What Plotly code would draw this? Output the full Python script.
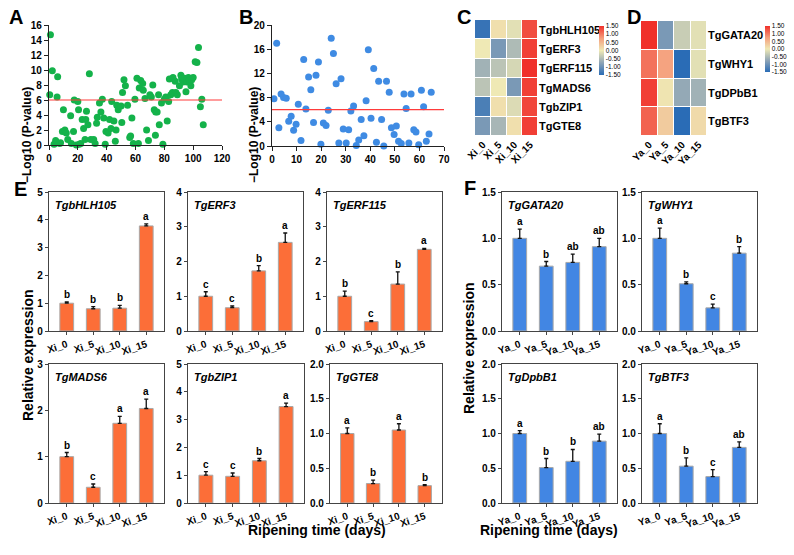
import plotly.graph_objects as go

W, H = 794, 555
MR = 37            # right margin (room for the D colorbar)
PW = W - MR        # plot-area width in px
FONT = "Liberation Sans, Arial, sans-serif"

# ---------------- Panel A / B data ----------------
a_x = [1, 0.5, 2.3, 6, 5.6, 3.5, 4.6, 7.4, 8, 10, 9.3, 11, 12, 13, 15, 15.5, 17, 17.5, 19, 20, 20.5,
       21, 22, 23, 24, 25, 25.5, 26, 27, 28, 29, 31, 32, 33, 33.5, 35, 36, 37, 38, 39, 39.5, 41,
       42, 43, 43.5, 45, 46, 46.5, 47, 48, 50, 50.5, 51, 52, 53, 54.5, 56, 56.6, 57.5, 58.5, 59.6,
       61, 62, 62.6, 63.6, 65, 65.4, 66.6, 67.7, 69, 70, 71, 72, 73, 74, 75, 76, 76.5, 73.8, 78,
       79, 80, 81, 82, 83, 83.5, 84.5, 85.6, 86, 87.5, 88, 89, 90.5, 91.5, 92, 93, 94, 95, 95.6,
       96.7, 97.4, 98.4, 99, 100, 101.4, 102.6, 103.7, 105, 106, 107]
a_y = [14.7, 6.7, 9.9, 9.1, 6.4, 0.1, 0.6, 0.2, 0.3, 4.7, 1.8, 2.0, 1.6, 0.75, 3.9, 0.2, 1.8, 6.0, 0.0, 5.8, 4.7,
       0.1, 0.2, 3.4, 2.2, 0.75, 3.4, 4.5, 2.7, 9.5, 0.75, 0.75, 0.2, 2.9, 3.7, 5.6, 4.4, 6.1, 3.6, 0.1, 1.8, 1.6,
       3.4, 2.2, 5.8, 3.2, 0.5, 2.0, 5.3, 4.7, 5.2, 3.0, 7.0, 8.7, 7.9, 5.3, 1.0, 1.2, 3.6, 0.2, 6.1,
       8.9, 0.2, 7.6, 8.6, 8.2, 7.3, 6.2, 2.0, 0.6, 6.7, 6.4, 8.0, 4.7, 4.4, 4.4, 6.7, 2.7, 1.3, 5.6,
       0.1, 6.1, 6.4, 3.2, 5.8, 8.8, 6.7, 7.0, 9.0, 8.5, 7.0, 6.7, 7.9, 9.3, 8.8, 8.4, 8.9, 7.1, 8.4,
       9.0, 8.7, 7.9, 8.7, 9.0, 11.1, 11.0, 13.0, 5.1, 6.1, 2.7]
b_x = [0.8, 1.9, 2.8, 3.7, 4.7, 5.8, 6.8, 7.8, 8.8, 9.8, 10.7, 11.8, 12.9, 13.8, 14.9, 15.8, 16.9,
       17.9, 18.9, 19.9, 20.9, 22, 22.9, 24.1, 25, 26.1, 27.2, 28.1, 29, 30.2, 31.2, 32.1, 33.2,
       34.3, 35.3, 36.3, 37.4, 38.3, 39.2, 40.3, 41.4, 42.5, 43.4, 44.6, 45.5, 46.6, 47.7, 48.6,
       49.7, 50.6, 51.5, 52.6, 53.7, 54.6, 55.7, 56.6, 57.7, 58.6, 59.7, 60.8, 61.7, 62.8, 63.9, 64.8]
b_y = [7.8, 17.0, 3.0, 8.6, 8.0, 7.9, 4.1, 4.9, 2.6, 3.6, 6.9, 0.9, 14.3, 6.1, 11.4, 9.3, 3.9,
       11.7, 13.9, 0.3, 3.8, 3.4, 5.9, 17.8, 15.3, 10.3, 0.5, 11.1, 2.8, 0.5, 2.7, 5.8, 6.6,
       0.1, 1.0, 4.4, 1.7, 7.5, 15.9, 4.6, 12.8, 0.6, 10.7, 4.4, 0.0, 10.7, 8.9, 3.0,
       1.9, 3.3, 0.8, 0.4, 8.6, 6.2, 0.5, 8.6, 2.7, 2.3, 0.2, 9.2, 6.5, 0.8, 2.0, 8.9]
threshold = 6

# ---------------- Heatmap data ----------------
xi_samples = ["Xi_0", "Xi_5", "Xi_10", "Xi_15"]
ya_samples = ["Ya_0", "Ya_5", "Ya_10", "Ya_15"]
c_genes = ["TgbHLH105", "TgERF3", "TgERF115", "TgMADS6", "TgbZIP1", "TgGTE8"]
c_z = [[-1.4, 0.1, -0.1, 1.3],
       [0.0, -0.9, -0.5, 1.4],
       [-0.6, -0.4, -0.2, 1.5],
       [-0.4, 0.0, -0.9, 1.4],
       [-1.25, 0.1, -0.15, 1.35],
       [-0.9, -0.55, 0.1, 1.4]]
d_genes = ["TgGATA20", "TgWHY1", "TgDPbB1", "TgBTF3"]
d_z = [[1.5, -0.9, -0.3, -0.1],
       [1.05, 0.7, -1.5, -0.1],
       [1.4, 0.05, -0.7, -0.6],
       [1.15, 0.3, -1.5, 0.15]]
cb_ticks = [1.5, 1.0, 0.5, 0.0, -0.5, -1.0, -1.5]
cb_labels = ["1.50", "1.00", "0.50", "0.00", "-0.50", "-1.00", "-1.50"]

# ---------------- Bar data (E: Xi, F: Ya) ----------------
bhlh105_mean = [1.0, 0.8, 0.82, 3.78]; bhlh105_err = [0.05, 0.08, 0.1, 0.07]; bhlh105_sig = ["b", "b", "b", "a"]
erf3_mean = [1.0, 0.67, 1.73, 2.55]; erf3_err = [0.13, 0.05, 0.15, 0.27]; erf3_sig = ["c", "c", "b", "a"]
erf115_mean = [1.0, 0.27, 1.35, 2.35]; erf115_err = [0.15, 0.03, 0.35, 0.03]; erf115_sig = ["b", "c", "b", "a"]
mads6_mean = [1.0, 0.34, 1.72, 2.04]; mads6_err = [0.09, 0.07, 0.15, 0.2]; mads6_sig = ["b", "c", "a", "a"]
bzip1_mean = [1.0, 0.96, 1.52, 3.47]; bzip1_err = [0.13, 0.12, 0.08, 0.12]; bzip1_sig = ["c", "c", "b", "a"]
gte8_mean = [1.0, 0.28, 1.05, 0.25]; gte8_err = [0.08, 0.05, 0.09, 0.015]; gte8_sig = ["a", "b", "a", "b"]
gata20_mean = [1.0, 0.70, 0.74, 0.91]; gata20_err = [0.1, 0.05, 0.09, 0.09]; gata20_sig = ["a", "b", "ab", "ab"]
why1_mean = [1.0, 0.51, 0.25, 0.84]; why1_err = [0.11, 0.02, 0.04, 0.07]; why1_sig = ["a", "b", "c", "b"]
dpbb1_mean = [1.0, 0.51, 0.60, 0.89]; dpbb1_err = [0.04, 0.13, 0.17, 0.1]; dpbb1_sig = ["a", "b", "b", "ab"]
btf3_mean = [1.0, 0.53, 0.38, 0.80]; btf3_err = [0.14, 0.12, 0.1, 0.08]; btf3_sig = ["a", "b", "c", "ab"]


def px(p):
    return p / PW


def dx(p0, p1):
    return [px(p0), px(p1)]


def py(p):
    return 1 - p / H


def dy(top, bottom):
    return [py(bottom), py(top)]


fig = go.Figure()
layout = dict(template="none", width=W, height=H, margin=dict(l=0, r=MR, t=0, b=0, pad=0),
              paper_bgcolor="white", plot_bgcolor="white", showlegend=False,
              font=dict(family=FONT, color="black"))
annotations = []

tickfont_b = dict(family=FONT, size=10, color="black", weight="bold")

# ---------------- Panel A ----------------
fig.add_trace(go.Scatter(x=a_x, y=a_y, mode="markers", xaxis="x", yaxis="y",
                         marker=dict(color="#14b24a", size=7, line=dict(width=0)), cliponaxis=False))
fig.add_trace(go.Scatter(x=[0, 120], y=[threshold, threshold], mode="lines", xaxis="x", yaxis="y",
                         line=dict(color="#ff3b3b", width=1.2)))
scat_ax = dict(showline=True, linecolor="#222", linewidth=1.3, ticks="outside", ticklen=4, tickwidth=1,
               tickcolor="#222", showgrid=False, zeroline=False, tickfont=tickfont_b, automargin=False)
layout["xaxis"] = dict(domain=dx(49, 222), range=[0, 120], dtick=20, anchor="y", **scat_ax)
layout["yaxis"] = dict(domain=dy(25, 145), range=[0, 16], dtick=2, anchor="x", **scat_ax)

# ---------------- Panel B ----------------
fig.add_trace(go.Scatter(x=b_x, y=b_y, mode="markers", xaxis="x2", yaxis="y2",
                         marker=dict(color="#3f8be3", size=7, line=dict(width=0)), cliponaxis=False))
fig.add_trace(go.Scatter(x=[0, 70], y=[threshold, threshold], mode="lines", xaxis="x2", yaxis="y2",
                         line=dict(color="#ff3b3b", width=1.2)))
layout["xaxis2"] = dict(domain=dx(272, 444), range=[0, 70], dtick=10, anchor="y2", **scat_ax)
layout["yaxis2"] = dict(domain=dy(25, 146), range=[0, 20], dtick=4, anchor="x2", **scat_ax)

for xc in [18, 245]:
    annotations.append(dict(x=px(xc), y=py(85), xref="paper", yref="paper", text="<b>−Log10 (P-value)</b>",
                            textangle=-90, showarrow=False, font=dict(family=FONT, size=12)))

# ---------------- Heatmaps ----------------
cscale = [[0.0, "#2a6cb6"], [0.25, "#8ea4b6"], [0.5, "#efe9b5"], [0.75, "#f59e7c"], [1.0, "#f0302a"]]
fig.add_trace(go.Heatmap(z=c_z, x=xi_samples, y=c_genes, coloraxis="coloraxis", xgap=1, ygap=1,
                         xaxis="x3", yaxis="y3"))
fig.add_trace(go.Heatmap(z=d_z, x=ya_samples, y=d_genes, coloraxis="coloraxis2", xgap=1, ygap=1,
                         xaxis="x4", yaxis="y4"))
hm_x = dict(showline=False, showgrid=False, zeroline=False, ticks="", tickangle=-45, automargin=False,
            tickfont=dict(family=FONT, size=10, weight="bold"))
hm_y = dict(showline=False, showgrid=False, zeroline=False, ticks="", side="right", autorange="reversed",
            automargin=False, tickfont=dict(family=FONT, size=11, weight="bold"))
layout["xaxis3"] = dict(domain=dx(475, 538), anchor="y3", **hm_x)
layout["yaxis3"] = dict(domain=dy(20, 136), anchor="x3", **hm_y)
layout["xaxis4"] = dict(domain=dx(641, 707), anchor="y4", **hm_x)
layout["yaxis4"] = dict(domain=dy(21, 136), anchor="x4", **hm_y)


def cbar(xpx, ytop, lenpx):
    return dict(x=px(xpx), xanchor="left", y=py(ytop), yanchor="top", lenmode="pixels", len=lenpx,
                thickness=5, outlinewidth=0, borderwidth=0, xpad=0, ypad=0, tickmode="array",
                tickvals=cb_ticks, ticktext=cb_labels, ticks="", ticklen=0,
                tickfont=dict(family=FONT, size=6.5, color="black"))


layout["coloraxis"] = dict(colorscale=cscale, cmin=-1.5, cmax=1.5, colorbar=cbar(599, 26, 49))
layout["coloraxis2"] = dict(colorscale=cscale, cmin=-1.5, cmax=1.5, colorbar=cbar(765, 26, 46))

# ---------------- Bar panels ----------------
ORANGE = "#fc6e38"
BLUE = "#4286e3"
bar_panels = [
    ("TgbHLH105", xi_samples, bhlh105_mean, bhlh105_err, bhlh105_sig, ORANGE, (49, 164), (192, 331), 5, 1, None),
    ("TgERF3", xi_samples, erf3_mean, erf3_err, erf3_sig, ORANGE, (188, 303), (192, 331), 4, 1, None),
    ("TgERF115", xi_samples, erf115_mean, erf115_err, erf115_sig, ORANGE, (327, 442), (192, 331), 4, 1, None),
    ("TgMADS6", xi_samples, mads6_mean, mads6_err, mads6_sig, ORANGE, (49, 164), (364, 503), 3, 1, None),
    ("TgbZIP1", xi_samples, bzip1_mean, bzip1_err, bzip1_sig, ORANGE, (188, 304), (364, 503), 5, 1, None),
    ("TgGTE8", xi_samples, gte8_mean, gte8_err, gte8_sig, ORANGE, (330, 442), (364, 503), 2, 0.5, ".1f"),
    ("TgGATA20", ya_samples, gata20_mean, gata20_err, gata20_sig, BLUE, (502, 617), (192, 331), 1.5, 0.5, ".1f"),
    ("TgWHY1", ya_samples, why1_mean, why1_err, why1_sig, BLUE, (642, 757), (192, 331), 1.5, 0.5, ".1f"),
    ("TgDpbB1", ya_samples, dpbb1_mean, dpbb1_err, dpbb1_sig, BLUE, (502, 617), (364, 503), 2, 0.5, ".1f"),
    ("TgBTF3", ya_samples, btf3_mean, btf3_err, btf3_sig, BLUE, (642, 757), (364, 503), 2, 0.5, ".1f"),
]

for i, (gene, cats, mean, err, sig, col, (x0, x1), (y0, y1), ymax, dt, fmt) in enumerate(bar_panels):
    n = i + 5
    xa, ya = f"x{n}", f"y{n}"
    fig.add_trace(go.Bar(x=cats, y=mean, xaxis=xa, yaxis=ya, width=0.52,
                         marker=dict(color=col, line=dict(color="#a8a8a8", width=1)),
                         error_y=dict(type="data", array=err, arrayminus=[0] * len(err), symmetric=False,
                                      color="#111", thickness=1.3, width=2)))
    box = dict(showline=True, mirror=True, linecolor="#444", linewidth=1.3, ticks="outside", ticklen=3,
               tickwidth=1, tickcolor="#444", showgrid=False, zeroline=False, tickfont=tickfont_b,
               automargin=False)
    layout[f"xaxis{n}"] = dict(domain=dx(x0, x1), anchor=ya, type="category", range=[-0.67, 3.67],
                               tickangle=-18, **box)
    yax = dict(domain=dy(y0, y1), anchor=xa, range=[0, ymax], dtick=dt, **box)
    if fmt:
        yax["tickformat"] = fmt
    layout[f"yaxis{n}"] = yax
    annotations.append(dict(x=0.035, y=1 - 13 / (y1 - y0), xref=f"{xa} domain", yref=f"{ya} domain",
                            text=f"<b><i>{gene}</i></b>", showarrow=False, xanchor="left", yanchor="middle",
                            font=dict(family=FONT, size=11)))
    for c, m, e, s in zip(cats, mean, err, sig):
        annotations.append(dict(x=c, y=m + e, xref=xa, yref=ya, text=f"<b>{s}</b>", showarrow=False,
                                yanchor="bottom", yshift=0, font=dict(family=FONT, size=10)))

# axis titles for bar panels
for xc, yc in [(18, 355), (469, 348)]:
    annotations.append(dict(x=px(xc), y=py(yc), xref="paper", yref="paper", text="<b>Relative expression</b>",
                            textangle=-90, showarrow=False, font=dict(family=FONT, size=14)))
for xc in [246, 620]:
    annotations.append(dict(x=px(xc), y=py(540), xref="paper", yref="paper", text="<b>Ripening time (days)</b>",
                            showarrow=False, font=dict(family=FONT, size=14)))

# panel letters
for letter, xl, yl in [("A", 7, 17), ("B", 237, 17), ("C", 455, 17), ("D", 625, 17), ("E", 12, 189), ("F", 462, 188)]:
    annotations.append(dict(x=px(xl), y=py(yl), xref="paper", yref="paper", text=f"<b>{letter}</b>",
                            showarrow=False, xanchor="left", yanchor="middle", font=dict(family=FONT, size=20)))

layout["annotations"] = annotations
fig.update_layout(**layout)
fig.write_html(
    "out.html", config={"displayModeBar": False},
    post_script=(
        "document.documentElement.style.margin='0';document.documentElement.style.overflow='hidden';"
        "document.body.style.margin='0';document.body.style.padding='0';document.body.style.overflow='hidden';"
        "var gd=document.getElementById('{plot_id}');gd.style.position='fixed';gd.style.left='0px';"
        "gd.style.top='0px';"
    ))
